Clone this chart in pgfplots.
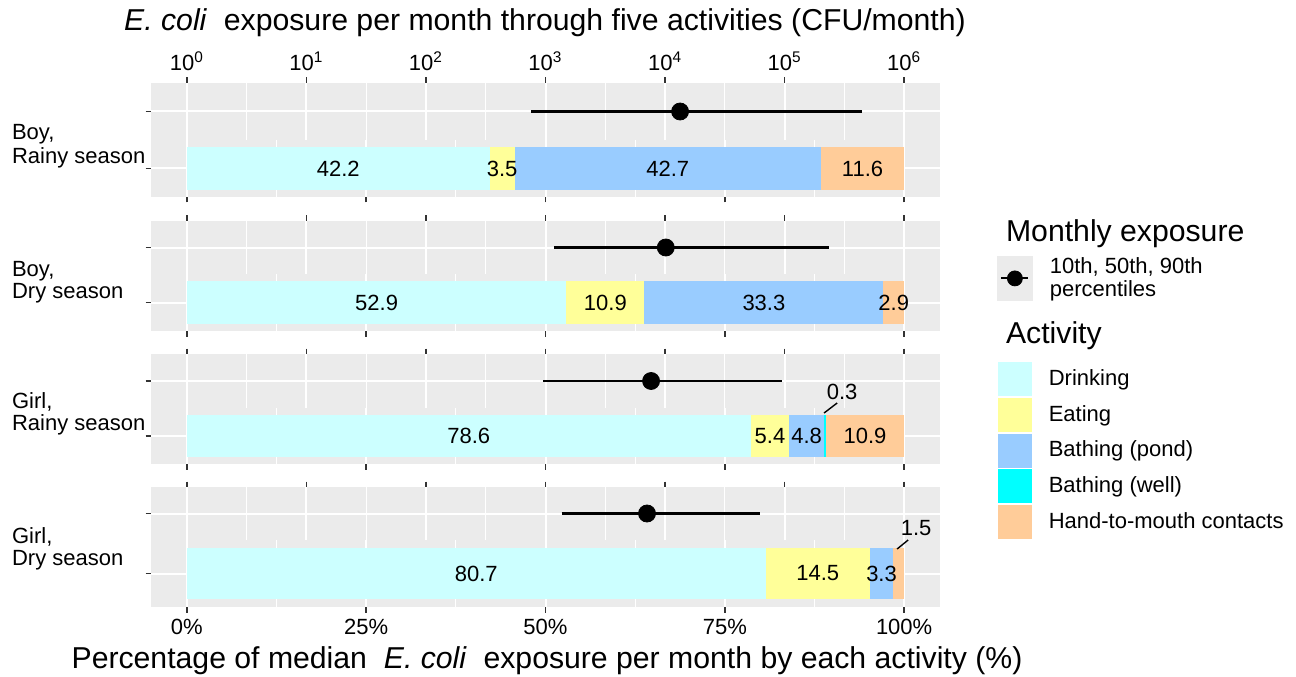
\documentclass[border=0pt]{standalone}
\usepackage{fontspec}
\setmainfont{Liberation Sans}
\usepackage{pgfplots}
\pgfplotsset{compat=1.18}
\definecolor{bg}{HTML}{EBEBEB}
\definecolor{tickc}{HTML}{333333}
\definecolor{drink}{HTML}{CCFFFF}
\definecolor{eat}{HTML}{FFFF99}
\definecolor{pond}{HTML}{99CCFF}
\definecolor{well}{HTML}{00FFFF}
\definecolor{hand}{HTML}{FFCC99}
\newcommand\smallf{\fontsize{11}{11.5}\selectfont}
\newcommand\bigf{\fontsize{15.1}{16}\selectfont}
\tikzset{lab/.style={font=\smallf, text=black}}
\pgfplotsset{
  panel/.style={scale only axis, width=394.5pt, anchor=north west,
    ymin=0.4, ymax=1.6, ytick={1}, yticklabels={},
    ymajorgrids, xmajorgrids, xminorgrids,
    axis background/.style={fill=bg},
    separate axis lines, axis line style={draw=none},
    major grid style={white, line width=1pt},
    minor grid style={white, line width=0.55pt},
    tick align=outside, major tick length=2.75pt, minor tick length=0pt,
    tick style={color=tickc, line width=0.8pt},
    ytick pos=left,
    tick label style={font=\smallf, text=black},
    clip=false},
  logpanel/.style={panel, xmin=0.501187, xmax=1995262,
    xtick={1,10,100,1000,10000,100000,1000000},
    minor xtick={3.16228,31.6228,316.228,3162.28,31622.8,316228},
    xtick pos=right, xticklabel pos=right},
  pctpanel/.style={panel, xmin=-5, xmax=105,
    xtick={0,25,50,75,100}, minor xtick={12.5,37.5,62.5,87.5},
    xtick pos=left, xticklabel pos=left,
    xbar stacked, bar width=0.9},
  labax/.style={hide axis, scale only axis, width=394.5pt, anchor=north west,
    xmin=-5, xmax=105, ymin=0.4, ymax=1.6, clip=false},
  seg/.style={fill=#1, draw=none},
  rng/.style={black, line width=1.1pt, mark=none},
  med/.style={black, only marks, mark=*, mark size=4.25pt},
  colkey/.style={legend image code/.code={\fill[#1] (0pt,-8.25pt) rectangle (16.5pt,8.25pt);}},
  legax/.style={hide axis, scale only axis, width=1pt, height=1pt, anchor=north west,
    xmin=0, xmax=1, ymin=0, ymax=1, legend cell align=left,
    legend style={at={(0,1)}, anchor=north west, draw=none, fill=none,
      inner sep=0pt, outer sep=0pt, row sep=1pt, column sep=8.5pt,
      nodes={inner sep=0pt}, cells={anchor=west, align=left}, font=\smallf}},
}
\begin{document}
\begin{tikzpicture}
\path[use as bounding box] (0pt,0pt) rectangle (648pt,338pt);

% ---------- Panel 1: Boy, Rainy season ----------
\begin{axis}[xmode=log, logpanel, at={(75.5pt,296.5pt)}, height=28.5pt,
  xticklabels={10\textsuperscript{0},10\textsuperscript{1},10\textsuperscript{2},10\textsuperscript{3},10\textsuperscript{4},10\textsuperscript{5},10\textsuperscript{6}}]
\addplot[rng] coordinates {(757,1) (443000,1)};
\addplot[med] coordinates {(13360,1)};
\end{axis}
\begin{axis}[pctpanel, at={(75.5pt,268pt)}, height=28.5pt, xticklabels={}]
\addplot[seg=drink] coordinates {(42.2,1)};
\addplot[seg=eat] coordinates {(3.5,1)};
\addplot[seg=pond] coordinates {(42.7,1)};
\addplot[seg=well] coordinates {(0,1)};
\addplot[seg=hand] coordinates {(11.6,1)};
\end{axis}
\begin{axis}[labax, at={(75.5pt,268pt)}, height=28.5pt]
\node[lab] at (axis cs:21.1,1) {42.2};
\node[lab] at (axis cs:43.95,1) {3.5};
\node[lab] at (axis cs:67.05,1) {42.7};
\node[lab] at (axis cs:94.2,1) {11.6};
\end{axis}

% ---------- Panel 2: Boy, Dry season ----------
\begin{axis}[xmode=log, logpanel, at={(75.5pt,227.5pt)}, height=26.5pt, xticklabels={}]
\addplot[rng] coordinates {(1185,1) (233000,1)};
\addplot[med] coordinates {(10140,1)};
\end{axis}
\begin{axis}[pctpanel, at={(75.5pt,201pt)}, height=28.5pt, xticklabels={}]
\addplot[seg=drink] coordinates {(52.9,1)};
\addplot[seg=eat] coordinates {(10.9,1)};
\addplot[seg=pond] coordinates {(33.3,1)};
\addplot[seg=well] coordinates {(0,1)};
\addplot[seg=hand] coordinates {(2.9,1)};
\end{axis}
\begin{axis}[labax, at={(75.5pt,201pt)}, height=28.5pt]
\node[lab] at (axis cs:26.45,1) {52.9};
\node[lab] at (axis cs:58.35,1) {10.9};
\node[lab] at (axis cs:80.45,1) {33.3};
\node[lab] at (axis cs:98.55,1) {2.9};
\end{axis}

% ---------- Panel 3: Girl, Rainy season ----------
\begin{axis}[xmode=log, logpanel, at={(75.5pt,161pt)}, height=27pt, xticklabels={}]
\addplot[rng] coordinates {(959,1) (96000,1)};
\addplot[med] coordinates {(7640,1)};
\end{axis}
\begin{axis}[pctpanel, at={(75.5pt,134pt)}, height=28pt, xticklabels={}]
\addplot[seg=drink] coordinates {(78.6,1)};
\addplot[seg=eat] coordinates {(5.4,1)};
\addplot[seg=pond] coordinates {(4.8,1)};
\addplot[seg=well] coordinates {(0.3,1)};
\addplot[seg=hand] coordinates {(10.9,1)};
\end{axis}
\begin{axis}[labax, at={(75.5pt,134pt)}, height=28pt]
\node[lab] at (axis cs:39.3,1) {78.6};
\node[lab] at (axis cs:81.3,1) {5.4};
\node[lab] at (axis cs:86.4,1) {4.8};
\node[lab] at (axis cs:94.55,1) {10.9};
\draw[black, line width=0.7pt] (axis cs:88.84,1.493) -- (axis cs:90.66,1.707);
\node[lab] at (axis cs:91.35,1.943) {0.3};
\end{axis}

% ---------- Panel 4: Girl, Dry season ----------
\begin{axis}[xmode=log, logpanel, at={(75.5pt,94.5pt)}, height=26.5pt, xticklabels={}]
\addplot[rng] coordinates {(1367,1) (62400,1)};
\addplot[med] coordinates {(7065,1)};
\end{axis}
\begin{axis}[pctpanel, at={(75.5pt,68pt)}, height=33.5pt,
  xticklabels={0\%,25\%,50\%,75\%,100\%}]
\addplot[seg=drink] coordinates {(80.7,1)};
\addplot[seg=eat] coordinates {(14.5,1)};
\addplot[seg=pond] coordinates {(3.3,1)};
\addplot[seg=well] coordinates {(0,1)};
\addplot[seg=hand] coordinates {(1.5,1)};
\end{axis}
\begin{axis}[labax, at={(75.5pt,68pt)}, height=33.5pt]
\node[lab] at (axis cs:40.35,1) {80.7};
\node[lab] at (axis cs:87.95,1) {14.5};
\node[lab] at (axis cs:96.85,1) {3.3};
\draw[black, line width=0.7pt] (axis cs:99.02,1.439) -- (axis cs:100.56,1.6);
\node[lab] at (axis cs:101.67,1.815) {1.5};
\end{axis}

% ---------- Facet labels ----------
\node[anchor=base west, font=\smallf] at (2.5pt,268pt) {Boy,};
\node[anchor=base west, font=\smallf] at (2.5pt,256pt) {Rainy season};
\node[anchor=base west, font=\smallf] at (2.5pt,200pt) {Boy,};
\node[anchor=base west, font=\smallf] at (2.5pt,189pt) {Dry season};
\node[anchor=base west, font=\smallf] at (2.5pt,134pt) {Girl,};
\node[anchor=base west, font=\smallf] at (2.5pt,123pt) {Rainy season};
\node[anchor=base west, font=\smallf] at (2.5pt,66.5pt) {Girl,};
\node[anchor=base west, font=\smallf] at (2.5pt,55.5pt) {Dry season};

% ---------- Titles ----------
\node[anchor=base, font=\bigf] at (272.5pt,322.5pt) {\textit{E. coli}\ \ exposure per month through five activities (CFU/month)};
\node[anchor=base, font=\bigf] at (273.5pt,4pt) {Percentage of median\ \ \textit{E. coli}\ \ exposure per month by each activity (\%)};

% ---------- Legends ----------
\node[anchor=base west, font=\bigf] at (499.5pt,217.5pt) {Monthly exposure};
\begin{axis}[legax, at={(498.5pt,210pt)}]
\addlegendimage{legend image code/.code={\fill[bg] (0pt,-11pt) rectangle (17.5pt,11pt); \draw[black,line width=1pt] (2pt,0pt) -- (15.5pt,0pt); \fill[black] (8.75pt,0pt) circle (3.75pt);}}
\addlegendentry{10th, 50th, 90th\\percentiles}
\end{axis}
\node[anchor=base west, font=\bigf] at (499.5pt,166.5pt) {Activity};
\begin{axis}[legax, at={(499pt,157pt)}]
\addlegendimage{colkey=drink}
\addlegendentry{Drinking}
\addlegendimage{colkey=eat}
\addlegendentry{Eating}
\addlegendimage{colkey=pond}
\addlegendentry{Bathing (pond)}
\addlegendimage{colkey=well}
\addlegendentry{Bathing (well)}
\addlegendimage{colkey=hand}
\addlegendentry{Hand-to-mouth contacts}
\end{axis}
\end{tikzpicture}
\end{document}
